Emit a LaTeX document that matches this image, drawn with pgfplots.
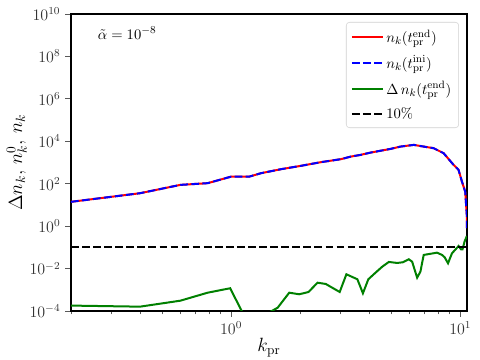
\documentclass[border=0pt]{standalone}
\usepackage{pgfplots}
\pgfplotsset{compat=1.18}
\definecolor{mplgreen}{HTML}{008000}

\pgfplotstableread{
x y
0.2 14.0
0.4 35.6
0.6 88
0.79 106
1.0 216
1.2 216
1.35 313
1.65 483
2.01 692
2.46 1033
3.01 1432
3.33 1897
3.67 2282
4.06 2931
4.96 4370
5.48 5623
6.27 6761
6.93 5623
7.65 4730
8.46 2748
9.35 771
9.83 448
10.17 126
10.51 42.4
10.69 2.8
10.7 0.8
}\nend

\pgfplotstableread{
x y
0.2 1.8e-4
0.4 1.6e-4
0.6 3.06e-4
0.79 7.3e-4
0.99 1.18e-3
1.2 2e-5
1.45 8e-5
1.596 1.43e-4
1.793 7.3e-4
1.982 6.14e-4
2.177 7.87e-4
2.382 2.16e-3
2.588 1.88e-3
2.977 7.87e-4
3.184 5.38e-3
3.556 3.13e-3
3.76 6.84e-4
3.97 3.13e-3
4.268 6.41e-3
4.567 1.23e-2
4.878 2.05e-2
5.306 1.84e-2
5.612 1.98e-2
5.96 2.75e-2
6.166 2.11e-2
6.484 3.72e-3
6.70 7.15e-3
6.925 4.39e-2
7.918 5.62e-2
8.326 4.39e-2
8.547 3.41e-2
8.843 1.78e-2
9.204 5.27e-2
9.836 0.116
10.07 8.13e-2
10.23 8.13e-2
10.44 0.186
10.69 0.345
}\dn

\begin{document}
\begin{tikzpicture}
\begin{axis}[
  scale only axis, width=297pt, height=222.75pt,
  xmode=log, ymode=log,
  xmin=0.2, xmax=10.7, ymin=1e-4, ymax=1e10,
  ytick={1e-4,1e-2,1,1e2,1e4,1e6,1e8,1e10},
  yminorticks=false,
  tick pos=left, tick align=outside,
  major tick length=4.5pt, minor tick length=2.6pt,
  every tick/.style={black!65, line width=0.6pt},
  tick label style={font=\large, black!80},
  axis line style={line width=1.2pt},
  xlabel={$k_{\rm pr}$}, ylabel={$\Delta n_k,\, n_k^0,\, n_k$},
  label style={font=\Large},
  xlabel shift=-4pt, ylabel shift=-5pt,
  legend cell align=left,
  legend image code/.code={\draw[#1] (0pt,0pt) -- (23pt,0pt);},
  legend style={at={(1,1)}, anchor=north east, xshift=-6pt, yshift=-6pt,
    draw=black!18, rounded corners=2.5pt, font=\fontsize{11}{13}\selectfont,
    row sep=4.5pt, inner sep=3.5pt},
  every axis plot/.append style={line width=1.5pt},
]
\addplot[red, no markers] table {\nend};
\addlegendentry{$n_k(t_{\rm pr}^{\rm end})$}
\addplot[blue, no markers, dash pattern=on 5.8pt off 2.5pt] table {\nend};
\addlegendentry{$n_k(t_{\rm pr}^{\rm ini})$}
\addplot[mplgreen, no markers] table {\dn};
\addlegendentry{$\Delta\, n_k(t_{\rm pr}^{\rm end})$}
\addplot[black, no markers, dash pattern=on 5.8pt off 2.5pt] coordinates {(0.2,0.1) (10.7,0.1)};
\addlegendentry{$10\%$}
\node[anchor=west, font=\fontsize{11}{13}\selectfont] at (axis description cs:0.056,0.936) {$\tilde{\alpha} = 10^{-8}$};
\end{axis}
\pgfresetboundingbox
\path ([shift={(-53.25pt,-36.75pt)}]current axis.south west) rectangle ([shift={(9.75pt,10.5pt)}]current axis.north east);
\end{tikzpicture}
\end{document}
